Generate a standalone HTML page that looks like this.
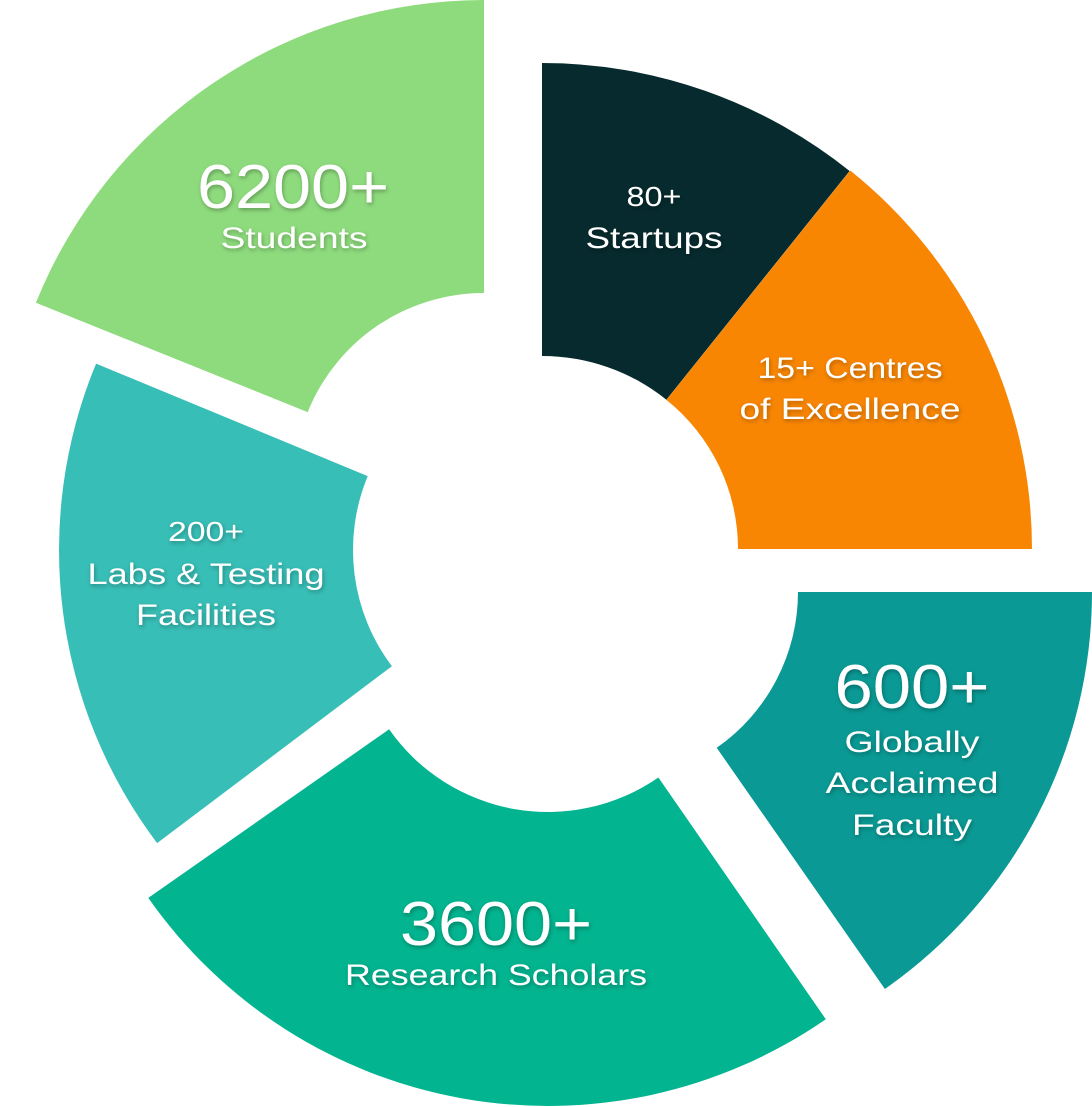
<!DOCTYPE html>
<html><head><meta charset="utf-8">
<style>
html,body{margin:0;padding:0;background:#fff;width:1092px;height:1107px;overflow:hidden}
svg{display:block}
text{font-family:"Liberation Sans",sans-serif;fill:#fff;text-anchor:middle}
</style></head><body>
<svg id="s" width="1092" height="1107" viewBox="0 0 1092 1107" xmlns="http://www.w3.org/2000/svg">
<defs><filter id="sh" x="-20%" y="-20%" width="140%" height="140%"><feDropShadow dx="1" dy="2" stdDeviation="2" flood-color="#000" flood-opacity="0.3"/></filter></defs>
<g id="segs"></g>
<g filter="url(#sh)">
<text x="293" y="208" font-size="62" textLength="192" lengthAdjust="spacingAndGlyphs">6200+</text>
<text x="294" y="248" font-size="30" textLength="147" lengthAdjust="spacingAndGlyphs">Students</text>
<text x="654" y="206" font-size="28" textLength="55" lengthAdjust="spacingAndGlyphs">80+</text>
<text x="654" y="248" font-size="30" textLength="137" lengthAdjust="spacingAndGlyphs">Startups</text>
<text x="850" y="378" font-size="30" textLength="185" lengthAdjust="spacingAndGlyphs">15+ Centres</text>
<text x="850" y="419" font-size="30" textLength="221" lengthAdjust="spacingAndGlyphs">of Excellence</text>
<text x="206" y="541" font-size="28" textLength="76" lengthAdjust="spacingAndGlyphs">200+</text>
<text x="206" y="584" font-size="30" textLength="237" lengthAdjust="spacingAndGlyphs">Labs &amp; Testing</text>
<text x="206" y="625" font-size="30" textLength="140" lengthAdjust="spacingAndGlyphs">Facilities</text>
<text x="912" y="708" font-size="62" textLength="155" lengthAdjust="spacingAndGlyphs">600+</text>
<text x="912" y="752" font-size="30" textLength="135" lengthAdjust="spacingAndGlyphs">Globally</text>
<text x="912" y="793" font-size="30" textLength="173" lengthAdjust="spacingAndGlyphs">Acclaimed</text>
<text x="912" y="835" font-size="30" textLength="120" lengthAdjust="spacingAndGlyphs">Faculty</text>
<text x="496" y="945" font-size="62" textLength="192" lengthAdjust="spacingAndGlyphs">3600+</text>
<text x="496" y="985" font-size="30" textLength="302" lengthAdjust="spacingAndGlyphs">Research Scholars</text>
</g>
</svg>
<script>
var segs=[
 [484,483,190,483,201.9,270,"#8EDB7D"],
 [542,555,199,492,270,308.7,"#062A2D"],
 [547,549,191,485,308.7,360,"#F98603"],
 [608,592,190,484,0,55.1,"#0A9994"],
 [548,618,194,488,55.3,145,"#02B48F"],
 [546,550,193,487,143,202.5,"#37BEB6"]
];
var g=document.getElementById("segs"),h="";
function p(cx,cy,r,a){a=a*Math.PI/180;return (cx+r*Math.cos(a)).toFixed(1)+" "+(cy+r*Math.sin(a)).toFixed(1);}
segs.forEach(function(s){
 var cx=s[0],cy=s[1],ri=s[2],ro=s[3],a0=s[4],a1=s[5];
 var lg=(a1-a0)>180?1:0;
 var d="M"+p(cx,cy,ro,a0)+" A"+ro+" "+ro+" 0 "+lg+" 1 "+p(cx,cy,ro,a1)+" L"+p(cx,cy,ri,a1)+" A"+ri+" "+ri+" 0 "+lg+" 0 "+p(cx,cy,ri,a0)+" Z";
 h+='<path d="'+d+'" fill="'+s[6]+'"/>';
});
g.innerHTML=h;
</script>
</body></html>
